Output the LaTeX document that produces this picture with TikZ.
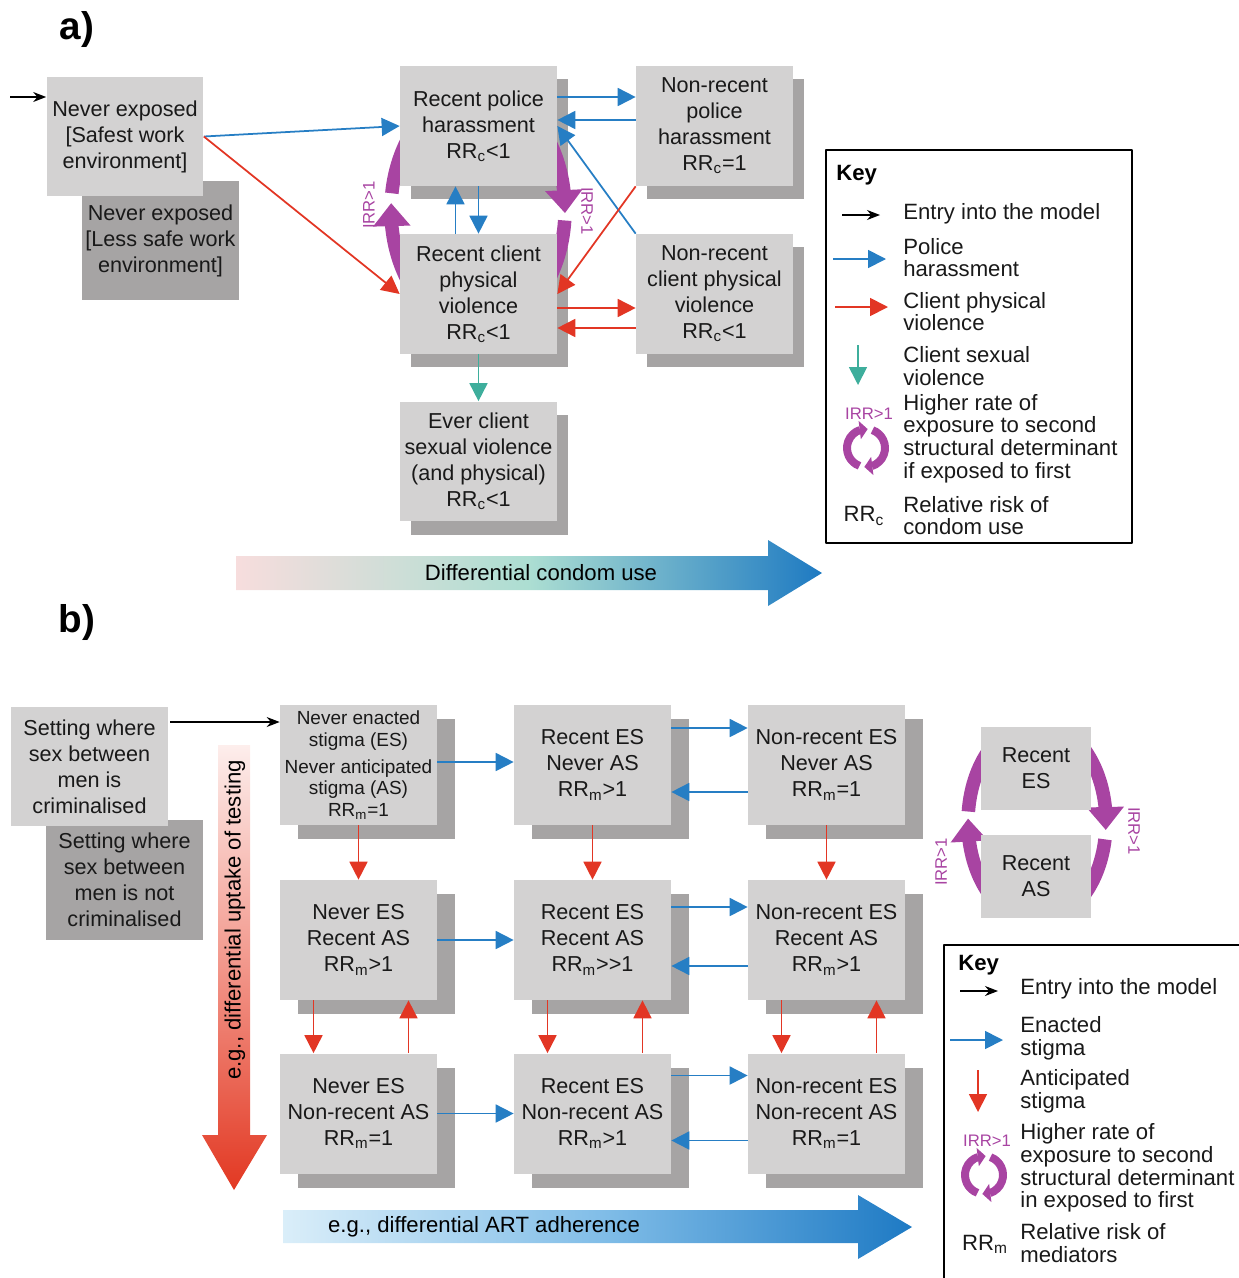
\documentclass[tikz,border=0pt]{standalone}
\usepackage{fontspec}
\setmainfont{Liberation Sans}
\usetikzlibrary{arrows.meta,bending}
\definecolor{boxgray}{RGB}{211,210,210}
\definecolor{shadegray}{RGB}{166,164,164}
\definecolor{polblue}{RGB}{38,126,196}
\definecolor{cpred}{RGB}{226,54,36}
\definecolor{csteal}{RGB}{62,174,156}
\definecolor{irrpurple}{RGB}{168,68,162}
\definecolor{condpink}{RGB}{247,221,221}
\definecolor{condteal}{RGB}{172,222,210}
\definecolor{condblue}{RGB}{30,122,194}
\definecolor{testtop}{RGB}{253,238,236}
\definecolor{testmid}{RGB}{242,150,138}
\definecolor{testbot}{RGB}{226,56,34}
\definecolor{artleft}{RGB}{218,238,249}
\definecolor{artmid}{RGB}{130,190,232}
\definecolor{artright}{RGB}{30,122,196}
\begin{document}
\begin{tikzpicture}[x=0.02cm,y=0.02cm,line join=round,>={Triangle[length=0.36cm,width=0.36cm]},
	state/.style={fill=boxgray,minimum width=3.14cm,minimum height=2.4cm,inner sep=1pt,align=center,text=black!90,font=\fontsize{12.3}{14.8}\selectfont},
	darkstate/.style={state,fill=shadegray},
	boxshadow/.style={fill=shadegray},
	pol/.style={draw=polblue,line width=1pt,->},
	cpv/.style={draw=cpred,line width=1pt,->},
	csv/.style={draw=csteal,line width=1pt,->},
	entry/.style={draw=black,line width=0.7pt,-{Stealth[length=0.26cm,width=0.2cm]}},
	ring/.style={draw=irrpurple,line width=0.27cm},
	ringtip/.style={ring,-{Triangle[length=0.46cm,width=0.72cm]}},
	irrlab/.style={text=irrpurple,inner sep=0pt,font=\fontsize{9.5}{10}\selectfont},
	keytext/.style={anchor=west,align=left,inner sep=0pt,text=black!90,font=\fontsize{12.6}{12.9}\selectfont},
	keyhead/.style={anchor=west,inner sep=0pt,font=\fontsize{12.6}{13}\selectfont\bfseries},
	panel/.style={inner sep=0pt,font=\fontsize{22}{24}\selectfont\bfseries},
	irricon/.pic={
		\draw[draw=irrpurple,line width=0.16cm,-{Triangle[length=0.16cm,width=0.36cm]}] (250:19) arc[start angle=250,end angle=85,radius=19];
		\draw[draw=irrpurple,line width=0.16cm,-{Triangle[length=0.16cm,width=0.36cm]}] (70:19) arc[start angle=70,end angle=-95,radius=19];
	}]
	\useasboundingbox (0,0) rectangle (1239,-1278);
	\clip (0,0) rectangle (1239,-1278);
	%% a)
	\node[panel] (lbla) at (77,-30) {a)};
	\foreach \cx/\cy in {478.5/-126,714.5/-126,478.5/-294,714.5/-294,478.5/-461.5}
		\fill[boxshadow] (\cx-67.5,\cy-73) rectangle ++(157,120);
	\coordinate (ringa) at (478,-210);
	\draw[ringtip] ([shift={(40:87 and 120)}]ringa) arc[start angle=40,end angle=-1.5,x radius=87,y radius=120];
	\draw[ring] ([shift={(-5:87 and 120)}]ringa) arc[start angle=-5,end angle=-40,x radius=87,y radius=120];
	\draw[ringtip] ([shift={(220:87 and 120)}]ringa) arc[start angle=220,end angle=176.7,x radius=87,y radius=120];
	\draw[ring] ([shift={(172:87 and 120)}]ringa) arc[start angle=172,end angle=140,x radius=87,y radius=120];
	\node[irrlab,rotate=90] (irra1) at (369,-205) {IRR>1};
	\node[irrlab,rotate=-90] (irra2) at (587,-211) {IRR>1};
	\node[darkstate] (A0b) at (160.5,-240.5) {Never exposed\\{[}Less safe work\\environment{]}};
	\node[state] (A0) at (125,-136.5) {Never exposed\\{[}Safest work\\environment{]}};
	\node[state] (P1) at (478.5,-126) {Recent police\\harassment\\RR\textsubscript{c}<1};
	\node[state] (P2) at (714.5,-126) {Non-recent\\police\\harassment\\RR\textsubscript{c}=1};
	\node[state] (C1) at (478.5,-294) {Recent client\\physical\\violence\\RR\textsubscript{c}<1};
	\node[state] (C2) at (714.5,-294) {Non-recent\\client physical\\violence\\RR\textsubscript{c}<1};
	\node[state] (S1) at (478.5,-461.5) {Ever client\\sexual violence\\(and physical)\\RR\textsubscript{c}<1};
	\coordinate (entA) at (10,-97);
	\draw[entry] (entA) -- (entA -| A0.west);
	\draw[pol] (A0.east) -- (P1.west);
	\draw[cpv] (A0.east) -- (C1.west);
	\draw[pol] ([yshift=0.58cm]P1.east) -- ([yshift=0.58cm]P2.west);
	\draw[pol] ([yshift=0.12cm]P2.west) -- ([yshift=0.12cm]P1.east);
	\draw[pol] (C2.north west) -- (P1.east);
	\draw[cpv] (P2.south west) -- (C1.east);
	\draw[cpv] ([yshift=-0.28cm]C1.east) -- ([yshift=-0.28cm]C2.west);
	\draw[cpv] ([yshift=-0.68cm]C2.west) -- ([yshift=-0.68cm]C1.east);
	\draw[pol] (P1.south) -- (C1.north);
	\draw[pol] ([xshift=-0.46cm]C1.north) -- ([xshift=-0.46cm]P1.south);
	\draw[csv] (C1.south) -- (S1.north);
	\shade[left color=condpink,right color=condblue,middle color=condteal] (236,-556) -- (768,-556) -- (768,-540) -- (822,-573) -- (768,-606) -- (768,-590) -- (236,-590) -- cycle;
	\node[font=\fontsize{12.6}{14}\selectfont] (condom) at (541,-573) {Differential condom use};
	% key a
	\draw[line width=1.2pt] (826,-150) rectangle (1132,-543);
	\node[keyhead] (keya) at (836,-175) {Key};
	\node[keytext] (kaEnt) at (903,-214) {Entry into the model};
	\node[keytext] (kaPol) at (903,-257.5) {Police\\harassment};
	\node[keytext] (kaCpv) at (903,-311.5) {Client physical\\violence};
	\node[keytext] (kaCsv) at (903,-366) {Client sexual\\violence};
	\node[keytext] (kaIrr) at (903,-438.5) {Higher rate of\\exposure to second\\structural determinant\\if exposed to first};
	\node[keytext] (kaRR) at (903,-515.5) {Relative risk of\\condom use};
	\node[keytext,anchor=center] (kaRRsym) at (864,-516) {RR\textsubscript{c}};
	\node[irrlab] (kaIrrlab) at (869,-414) {IRR>1};
	\pic at (866,-448) {irricon};
	\draw[entry] ([xshift=-1.22cm,yshift=-0.02cm]kaEnt.west) -- ([xshift=-0.46cm,yshift=-0.02cm]kaEnt.west);
	\draw[pol] ([xshift=-1.4cm,yshift=-0.03cm]kaPol.west) -- ([xshift=-0.34cm,yshift=-0.03cm]kaPol.west);
	\draw[cpv] ([xshift=-1.36cm,yshift=0.09cm]kaCpv.west) -- ([xshift=-0.3cm,yshift=0.09cm]kaCpv.west);
	\draw[csv] ([xshift=-0.9cm,yshift=0.42cm]kaCsv.west) -- ([xshift=-0.9cm,yshift=-0.38cm]kaCsv.west);
	%% b)
	\node[panel] (lblb) at (77,-622) {b)};
	\foreach \cx in {358.5,592.5,826.5}
		\foreach \cy in {-765,-940,-1113.5}
			\fill[boxshadow] (\cx-60.5,\cy-74) rectangle ++(157,120);
	\coordinate (ringb) at (1037,-822);
	\draw[ringtip] ([shift={(50:69 and 100)}]ringb) arc[start angle=50,end angle=-4.6,x radius=69,y radius=100];
	\draw[ring] ([shift={(-10:69 and 100)}]ringb) arc[start angle=-10,end angle=-50,x radius=69,y radius=100];
	\draw[ringtip] ([shift={(230:69 and 100)}]ringb) arc[start angle=230,end angle=178,x radius=69,y radius=100];
	\draw[ring] ([shift={(174:69 and 100)}]ringb) arc[start angle=174,end angle=130,x radius=69,y radius=100];
	\node[irrlab,rotate=90] (irrb1) at (941,-862) {IRR>1};
	\node[irrlab,rotate=-90] (irrb2) at (1134,-831) {IRR>1};
	\node[state,minimum width=2.2cm,minimum height=1.66cm] (RES) at (1036,-768.5) {Recent\\ES};
	\node[state,minimum width=2.2cm,minimum height=1.66cm] (RAS) at (1036,-876.5) {Recent\\AS};
	\node[darkstate] (B0b) at (124.5,-879.5) {Setting where\\sex between\\men is not\\criminalised};
	\node[state] (B0) at (89.5,-766.5) {Setting where\\sex between\\men is\\criminalised};
	\node[state,font=\fontsize{10.8}{12.4}\selectfont] (s11) at (358.5,-765) {Never enacted\\stigma (ES)\\[3pt]Never anticipated\\stigma (AS)\\RR\textsubscript{m}=1};
	\node[state] (s12) at (592.5,-765) {Recent ES\\Never AS\\RR\textsubscript{m}>1};
	\node[state] (s13) at (826.5,-765) {Non-recent ES\\Never AS\\RR\textsubscript{m}=1};
	\node[state] (s21) at (358.5,-940) {Never ES\\Recent AS\\RR\textsubscript{m}>1};
	\node[state] (s22) at (592.5,-940) {Recent ES\\Recent AS\\RR\textsubscript{m}>{}>1};
	\node[state] (s23) at (826.5,-940) {Non-recent ES\\Recent AS\\RR\textsubscript{m}>1};
	\node[state] (s31) at (358.5,-1113.5) {Never ES\\Non-recent AS\\RR\textsubscript{m}=1};
	\node[state] (s32) at (592.5,-1113.5) {Recent ES\\Non-recent AS\\RR\textsubscript{m}>1};
	\node[state] (s33) at (826.5,-1113.5) {Non-recent ES\\Non-recent AS\\RR\textsubscript{m}=1};
	\coordinate (entB) at (170,-722);
	\draw[entry] (entB) -- (entB -| s11.west);
	\draw[pol] ([yshift=0.06cm]s11.east) -- ([yshift=0.06cm]s12.west);
	\draw[pol] ([yshift=0.74cm]s12.east) -- ([yshift=0.74cm]s13.west);
	\draw[pol] ([yshift=-0.54cm]s13.west) -- ([yshift=-0.54cm]s12.east);
	\draw[pol] (s21.east) -- (s22.west);
	\draw[pol] ([yshift=0.66cm]s22.east) -- ([yshift=0.66cm]s23.west);
	\draw[pol] ([yshift=-0.52cm]s23.west) -- ([yshift=-0.52cm]s22.east);
	\draw[pol] (s31.east) -- (s32.west);
	\draw[pol] ([yshift=0.76cm]s32.east) -- ([yshift=0.76cm]s33.west);
	\draw[pol] ([yshift=-0.54cm]s33.west) -- ([yshift=-0.54cm]s32.east);
	\foreach \c in {1,2,3}{
		\draw[cpv] (s1\c.south) -- (s2\c.north);
		\draw[cpv] ([xshift=-0.9cm]s2\c.south) -- ([xshift=-0.9cm]s3\c.north);
		\draw[cpv] ([xshift=1cm]s3\c.north) -- ([xshift=1cm]s2\c.south);
	}
	\shade[top color=testtop,bottom color=testbot,middle color=testmid] (218,-745) -- (250,-745) -- (250,-1135) -- (267,-1135) -- (234,-1190) -- (202,-1135) -- (218,-1135) -- cycle;
	\node[rotate=90,font=\fontsize{12.6}{14}\selectfont] (testing) at (235,-920) {e.g., differential uptake of testing};
	\shade[left color=artleft,right color=artright,middle color=artmid] (283,-1210) -- (858,-1210) -- (858,-1195) -- (912,-1227) -- (858,-1259) -- (858,-1243) -- (283,-1243) -- cycle;
	\node[font=\fontsize{12.6}{14}\selectfont] (art) at (484,-1227) {e.g., differential ART adherence};
	% key b
	\draw[line width=1.2pt] (1250,-945) -- (944,-945) -- (944,-1290);
	\node[keyhead] (keyb) at (958,-965) {Key};
	\node[keytext] (kbEnt) at (1020,-989) {Entry into the model};
	\node[keytext] (kbEs) at (1020,-1038.5) {Enacted\\stigma};
	\node[keytext] (kbAs) at (1020,-1091.5) {Anticipated\\stigma};
	\node[keytext] (kbIrr) at (1020,-1168) {Higher rate of\\exposure to second\\structural determinant\\in exposed to first};
	\node[keytext] (kbRR) at (1020,-1243) {Relative risk of\\mediators};
	\node[keytext,anchor=center] (kbRRsym) at (985,-1244) {RR\textsubscript{m}};
	\node[irrlab] (kbIrrlab) at (987,-1141) {IRR>1};
	\pic at (984,-1175) {irricon};
	\draw[entry] ([xshift=-1.2cm,yshift=-0.04cm]kbEnt.west) -- ([xshift=-0.44cm,yshift=-0.04cm]kbEnt.west);
	\draw[pol] ([xshift=-1.4cm,yshift=-0.03cm]kbEs.west) -- ([xshift=-0.34cm,yshift=-0.03cm]kbEs.west);
	\draw[cpv] ([xshift=-0.84cm,yshift=0.43cm]kbAs.west) -- ([xshift=-0.84cm,yshift=-0.41cm]kbAs.west);
\end{tikzpicture}
\end{document}
